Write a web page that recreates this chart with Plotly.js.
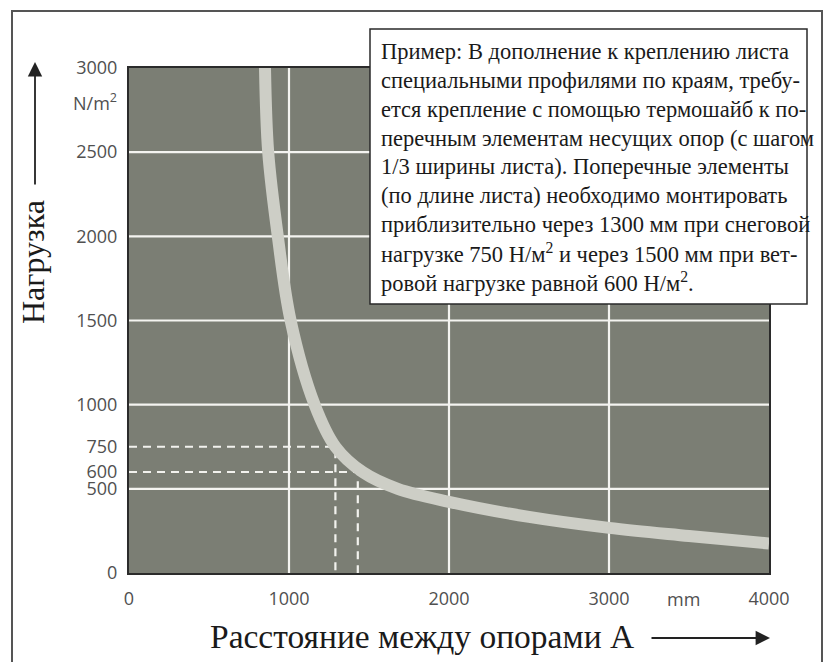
<!DOCTYPE html>
<html><head><meta charset="utf-8">
<script src="https://cdn.plot.ly/plotly-3.0.1.min.js"></script>
<style>html,body{margin:0;padding:0;background:#fff}</style>
</head><body><div id="chart" style="width:827px;height:662px"></div>
<script>
// ---- data ----
const curveX = [850, 870, 930, 1010, 1160, 1290, 1460, 1680, 2000, 2500, 3000, 3500, 4000];
const curveY = [3000, 2500, 2000, 1500, 1000, 750, 600, 500, 423, 333, 268, 220, 175];
const xTickVals = [0, 1000, 2000, 3000, 4000];
const xTickText = ['0', '1000', '2000', '3000', '4000'];
const yTickVals = [0, 500, 600, 750, 1000, 1500, 2000, 2500, 3000];
const yTickText = ['0', '500', '600', '750', '1000', '1500', '2000', '2500', '3000'];
const gridX = [1000, 2000, 3000];
const gridY = [500, 1000, 1500, 2000, 2500];
const snowLoad = 750, snowSpan = 1290;
const windLoad = 600, windSpan = 1430;
const xUnit = 'mm';
const yUnit = 'N/m<sup>2</sup>';
const xTitle = 'Расстояние между опорами А';
const yTitle = 'Нагрузка';
const noteLines = [
  'Пример: В дополнение к креплению листа',
  'специальными профилями по краям, требу-',
  'ется крепление с помощью термошайб к по-',
  'перечным элементам несущих опор (с шагом',
  '1/3 ширины листа). Поперечные элементы',
  '(по длине листа) необходимо монтировать',
  'приблизительно через 1300 мм при снеговой',
  'нагрузке 750 Н/м<sup>2</sup> и через 1500 мм при вет-',
  'ровой нагрузке равной 600 Н/м<sup>2</sup>.'
];

// ---- layout helpers (pixel -> paper) ----
const W = 827, H = 662, L = 129, R = 769, T = 68, B = 573;
const px = v => (v - L) / (R - L);
const py = v => (B - v) / (B - T);

const tickFont = {family: 'Open Sans, sans-serif', size: 18, color: '#505050'};
const serif = 'Liberation Serif, Times New Roman, serif';

const traces = [
  {x: [0, snowSpan, snowSpan], y: [snowLoad, snowLoad, 0], mode: 'lines',
   line: {color: '#f2f2ee', width: 2.2, dash: '8px,6px'}, hoverinfo: 'skip'},
  {x: [0, windSpan, windSpan], y: [windLoad, windLoad, 0], mode: 'lines',
   line: {color: '#f2f2ee', width: 2.2, dash: '8px,6px'}, hoverinfo: 'skip'},
  {x: curveX, y: curveY, mode: 'lines', line: {color: '#cdcec6', width: 12, shape: 'spline', smoothing: 1},
   hoverinfo: 'skip'}
];

const shapes = [];
gridX.forEach(v => shapes.push({type: 'line', xref: 'x', yref: 'y', x0: v, x1: v, y0: 0, y1: 3000,
  line: {color: '#f4f4f0', width: 2.2}, layer: 'below'}));
gridY.forEach(v => shapes.push({type: 'line', xref: 'x', yref: 'y', x0: 0, x1: 4000, y0: v, y1: v,
  line: {color: '#f4f4f0', width: 2.2}, layer: 'below'}));
// outer frame
shapes.push({type: 'rect', xref: 'paper', yref: 'paper', x0: px(12), x1: px(822), y0: py(720), y1: py(11),
  line: {color: '#555', width: 2}, fillcolor: 'rgba(0,0,0,0)', layer: 'above'});
// note box
shapes.push({type: 'rect', xref: 'paper', yref: 'paper', x0: px(370), x1: px(807), y0: py(304), y1: py(29),
  line: {color: '#2a2a2a', width: 1.5}, fillcolor: '#ffffff', layer: 'above'});

const annotations = [];
const lineTop = 52, lineStep = 28.75;
noteLines.forEach((t, i) => annotations.push({
  xref: 'paper', yref: 'paper', x: px(379), y: py(lineTop + i * lineStep), xanchor: 'left', yanchor: 'middle',
  text: t, showarrow: false, font: {family: serif, size: 22.5, color: '#1a1a1a'}
}));
annotations.push({xref: 'paper', yref: 'paper', x: px(119), y: py(102), xanchor: 'right', yanchor: 'middle',
  text: yUnit, showarrow: false, font: tickFont});
annotations.push({xref: 'paper', yref: 'paper', x: px(683), y: py(599), xanchor: 'center', yanchor: 'middle',
  text: xUnit, showarrow: false, font: tickFont});
annotations.push({xref: 'paper', yref: 'paper', x: px(208), y: py(636), xanchor: 'left', yanchor: 'middle',
  text: xTitle, showarrow: false, font: {family: serif, size: 33.5, color: '#1a1a1a'}});
annotations.push({xref: 'paper', yref: 'paper', x: px(33), y: py(262), xanchor: 'center', yanchor: 'middle',
  text: yTitle, textangle: -90, showarrow: false, font: {family: serif, size: 32, color: '#1a1a1a'}});
// arrows
annotations.push({xref: 'paper', yref: 'paper', x: px(770), y: py(638), ax: -120, ay: 0, text: '',
  showarrow: true, arrowhead: 2, arrowsize: 1.6, arrowwidth: 1.8, arrowcolor: '#222'});
annotations.push({xref: 'paper', yref: 'paper', x: px(35), y: py(62), ax: 0, ay: 124, text: '',
  showarrow: true, arrowhead: 2, arrowsize: 1.6, arrowwidth: 1.8, arrowcolor: '#222'});

const layout = {
  width: W, height: H,
  margin: {l: L, r: W - R, t: T, b: H - B, pad: 0},
  paper_bgcolor: '#ffffff', plot_bgcolor: '#7b7e74',
  showlegend: false,
  xaxis: {range: [0, 4000], tickvals: xTickVals, ticktext: xTickText, showgrid: false, zeroline: false,
    showline: true, mirror: true, linecolor: '#2b2b2b', linewidth: 2, ticks: '', ticklabelstandoff: 8,
    tickfont: tickFont, fixedrange: true},
  yaxis: {range: [0, 3000], tickvals: yTickVals, ticktext: yTickText, showgrid: false, zeroline: false,
    showline: true, mirror: true, linecolor: '#2b2b2b', linewidth: 2, ticks: '', ticklabelstandoff: 6,
    tickfont: tickFont, fixedrange: true},
  shapes: shapes,
  annotations: annotations
};

Plotly.newPlot('chart', traces, layout, {displayModeBar: false, staticPlot: true});
</script>
</body></html>
